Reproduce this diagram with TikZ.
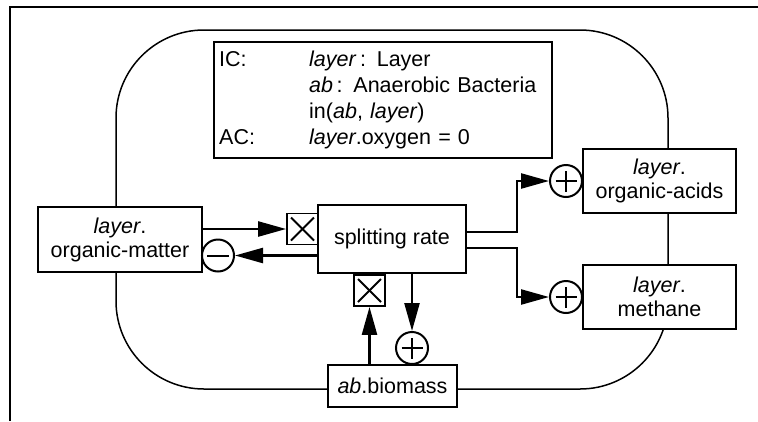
\documentclass[tikz,border=0pt]{standalone}
\usepackage{fontspec}
\setmainfont{Liberation Sans}
\usetikzlibrary{arrows.meta}
\tikzset{
  box/.style={draw, line width=1.8pt, fill=white, align=center, inner sep=0pt,
    font=\fontsize{21.5}{24}\selectfont},
  symc/.style={circle, draw, line width=2pt, fill=white, minimum size=32pt, inner sep=0pt},
  plusc/.style={symc, path picture={
    \draw[line width=2pt] ([xshift=-10.5pt]path picture bounding box.center) -- ([xshift=10.5pt]path picture bounding box.center);
    \draw[line width=2pt] ([yshift=-10.5pt]path picture bounding box.center) -- ([yshift=10.5pt]path picture bounding box.center);}},
  minusc/.style={symc, path picture={
    \draw[line width=2pt] ([xshift=-11pt]path picture bounding box.center) -- ([xshift=11pt]path picture bounding box.center);}},
  multbox/.style={draw, line width=1.8pt, fill=white, minimum size=31pt, inner sep=0pt, path picture={
    \draw[line width=2pt] ([shift={(4pt,-4pt)}]path picture bounding box.north west) -- ([shift={(-4pt,4pt)}]path picture bounding box.south east);
    \draw[line width=2pt] ([shift={(-4pt,-4pt)}]path picture bounding box.north east) -- ([shift={(4pt,4pt)}]path picture bounding box.south west);}},
  arr/.style={line width=2.4pt, -{Triangle[length=28pt,width=15pt]}},
}
\begin{document}
\begin{tikzpicture}[x=1pt,y=-1pt]
\useasboundingbox (0,0) rectangle (758,421);
% frame
\draw[line width=2.6pt, line join=miter] (10,421) -- (10,7) -- (758,7);
% boundary
\draw[line width=1.5pt, rounded corners=88pt] (116,30) rectangle (668,389);
% condition box
\node[draw, line width=2.4pt, fill=white, anchor=north west, minimum height=116pt,
  text width=328pt, inner xsep=5pt, inner ysep=0pt, align=left,
  font=\fontsize{21.5}{26}\selectfont] (ic) at (213,41)
  {\makebox[90pt][l]{IC:}\textit{layer}\,: Layer\\
   \makebox[90pt][l]{}\textit{ab}\,: Anaerobic Bacteria\\
   \makebox[90pt][l]{}in(\textit{ab}, \textit{layer})\\
   \makebox[90pt][l]{AC:}\textit{layer}.oxygen = 0};
% boxes
\node[box, minimum width=164pt, minimum height=65pt] (om) at (120,239.5) {\textit{layer}.\\organic-matter};
\node[box, minimum width=148pt, minimum height=68pt] (sr) at (392,239) {splitting rate};
\node[box, minimum width=153pt, minimum height=64pt] (oa) at (659.5,181) {\textit{layer}.\\organic-acids};
\node[box, minimum width=153pt, minimum height=64pt] (me) at (659.5,297) {\textit{layer}.\\methane};
\node[box, minimum width=129pt, minimum height=42pt] (ab) at (392.5,386) {\textit{ab}.biomass};
% symbols
\node[multbox] (mx1) at (302.5,229) {};
\node[multbox] (mx2) at (369.5,290.5) {};
\node[minusc] (mi) at (218,255.5) {};
\node[plusc] (p1) at (566,181) {};
\node[plusc] (p2) at (566,297) {};
\node[plusc] (p3) at (412,348) {};
% connectors
\draw[arr] (mx1.west -| om.east) -- (mx1.west);
\draw[arr] (mi.east -| sr.west) -- (mi.east);
\draw[arr] (mx2.south |- ab.north) -- (mx2.south);
\draw[arr] (p3.north |- sr.south) -- (p3.north);
\draw[arr] ([yshift=7pt]sr.east) -- ++(50,0) |- (p1.west);
\draw[arr] ([yshift=-9pt]sr.east) -- ++(50,0) |- (p2.west);
\end{tikzpicture}
\end{document}
